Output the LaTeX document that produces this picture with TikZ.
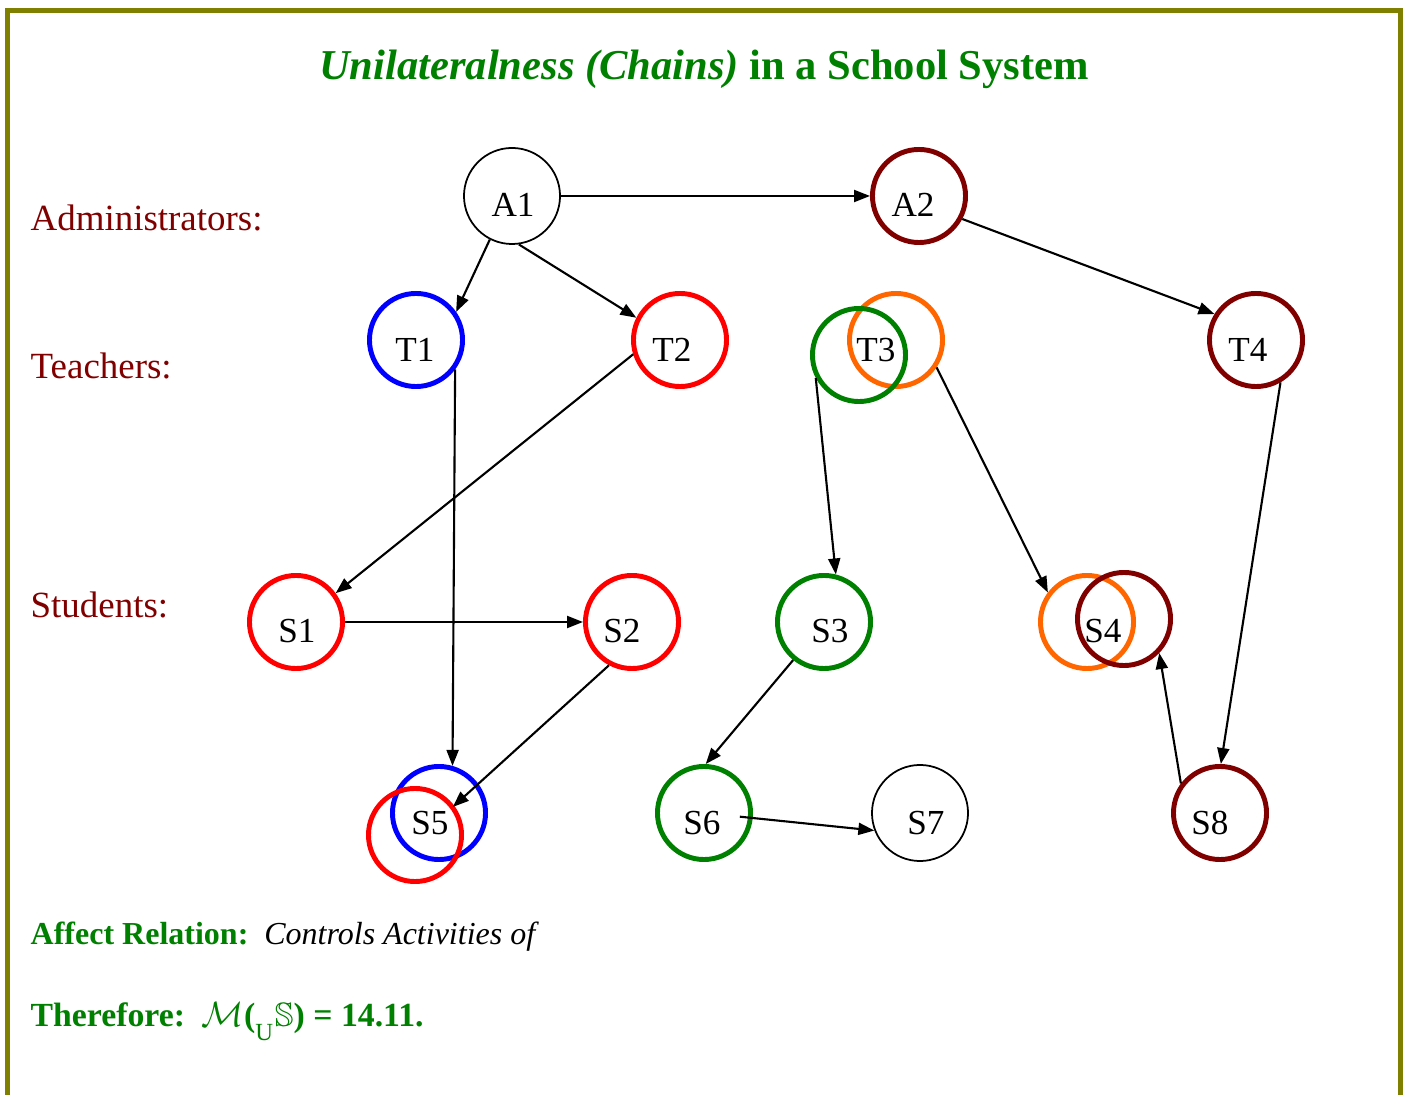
\documentclass[tikz,border=0pt]{standalone}
\usepackage{amsfonts, amssymb, amsmath}
\usepackage{fontspec}
\setmainfont{Liberation Serif}
\usetikzlibrary{arrows.meta}

\definecolor{olivebar}{RGB}{128,128,0}
\definecolor{darkgreen}{RGB}{0,128,0}
\definecolor{maroon}{RGB}{128,0,0}
\definecolor{orangeT}{RGB}{255,102,0}

\tikzset{
    ring/.style={circle, draw=#1, line width=1.4pt, minimum size=0.93cm, inner sep=0pt},
    thinring/.style={circle, draw, line width=0.5pt, minimum size=0.96cm, inner sep=0pt},
    tag/.style={inner sep=1pt, font=\fontsize{10}{12}\selectfont},
    rowname/.style={anchor=base west, inner sep=0pt, text=maroon, font=\fontsize{10.5}{12}\selectfont},
    footline/.style={anchor=base west, inner sep=0pt, text=darkgreen},
}

\begin{document}
\begin{tikzpicture}[x=0.01cm, y=-0.01cm, >={Triangle[length=0.16cm, width=0.12cm]}]
    \useasboundingbox (0,0) rectangle (1406,1095);

    % frame, open at the bottom
    \draw[olivebar, line width=0.05cm] (7.5,1095) -- (7.5,10.5) -- (1400,10.5) -- (1400,1095);

    % title
    \node[anchor=base, inner sep=0pt, text=darkgreen, font=\fontsize{12.1}{14}\selectfont\bfseries] (title) at (704,80)
        {\textit{Unilateralness (Chains)} in a School System};

    % levels
    \node[rowname] (admins) at (30,231) {Administrators:};
    \node[rowname] (teachers) at (30,379) {Teachers:};
    \node[rowname] (students) at (30,618) {Students:};

    % people: black rings are thin, the coloured ones thick
    \foreach \n/\x/\y in {A1/512/196, S7/920/813}
        \node[thinring] (\n) at (\x,\y) {};
    \foreach \n/\x/\y/\c in {A2/919/196/maroon, T1/416/340/blue, T2/680/340/red,
            T3o/896/340/orangeT, T3g/859/355/darkgreen, T4/1256/340/maroon,
            S1/296/622/red, S2/632/622/red, S3/824/622/darkgreen,
            S4o/1087/622/orangeT, S4d/1124/619/maroon, S5b/439/813/blue,
            S5r/415/835/red, S6/704/813/darkgreen, S8/1220/813/maroon}
        \node[ring=\c] (\n) at (\x,\y) {};

    % labels inside the rings
    \foreach \n/\x/\y in {A1/513/205, A2/913/205, T1/415/350, T2/672/350,
            T3/876/350, T4/1248/350, S1/297/631, S2/622/631, S3/830/631,
            S4/1103/631, S5/430/823, S6/702/823, S7/926/823, S8/1210/823}
        \node[tag] (t\n) at (\x,\y) {\n};

    % who controls whom
    \draw[->, line width=0.6pt] (A1.east) -- (A2.west);
    \draw[->, line width=0.6pt] (A1.243) -- (T1.35);
    \draw[->, line width=0.6pt] (A1.278) -- (T2.153);
    \draw[->, line width=0.6pt] (A2.332) -- (T4.148);
    \draw[->, line width=0.6pt] (T1.323) -- (S5b.74);
    \draw[->, line width=0.6pt] (T2.197) -- (S1.36);
    \draw[->, line width=0.6pt] (T3g.208) -- (S3.76);
    \draw[->, line width=0.6pt] (T3o.326) -- (S4o.143);
    \draw[->, line width=0.6pt] (T4.300) -- (S8.89);
    \draw[->, line width=0.6pt] (S1.east) -- (S2.west);
    \draw[->, line width=0.6pt] (S2.242) -- (tS5.north east);
    \draw[->, line width=0.6pt] (S3.231) -- (S6.88);
    \draw[->, line width=0.6pt, shorten <=0.36cm] (S6.center) -- (S7.201);
    \draw[->, line width=0.6pt] (S8.143) -- (S4d.316);

    % notes underneath
    \node[footline, font=\fontsize{9.1}{11}\selectfont] (relation) at (30,945)
        {\textbf{Affect Relation:}\ \ \textcolor{black}{\textit{Controls Activities of}}};
    \node[footline, font=\fontsize{9.6}{11}\selectfont] (result) at (30,1026)
        {\textbf{Therefore:}\ \ $\mathcal{M}$\textbf{(}$_{\raisebox{-0.6ex}{\scriptsize U}}\mathbb{S}$\textbf{) = 14.11.}};
\end{tikzpicture}
\end{document}
